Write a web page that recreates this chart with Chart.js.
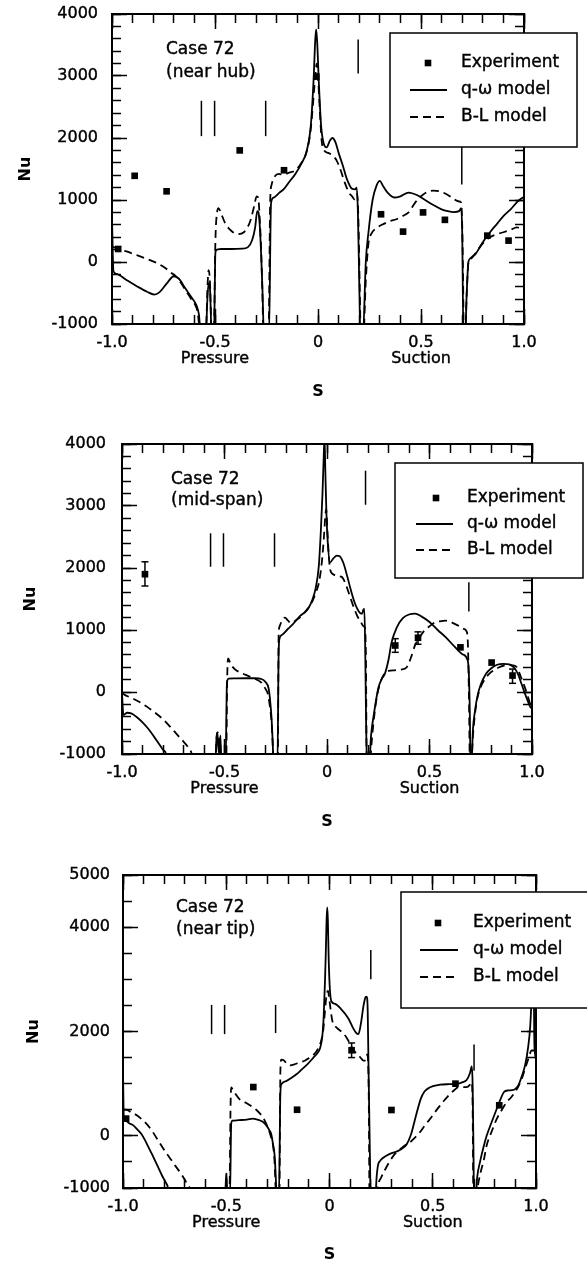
<!DOCTYPE html>
<html>
<head>
<meta charset="utf-8">
<title>Case 72 – Nu vs S</title>
<script src="https://cdn.jsdelivr.net/npm/chart.js@4/dist/chart.umd.min.js"></script>
<style>
  html, body { margin: 0; padding: 0; background: #fff; }
  body { position: relative; width: 587px; height: 1265px; overflow: hidden; }
  canvas { position: absolute; left: 0; }
</style>
</head>
<body>
<canvas id="c1" width="587" height="420" style="top:0px"></canvas>
<canvas id="c2" width="587" height="420" style="top:425px"></canvas>
<canvas id="c3" width="587" height="420" style="top:845px"></canvas>
<script>
// ---------------- shared labels ----------------
const xTickVals = [-1, -0.5, 0, 0.5, 1];
const xTickLabels = [['-1.0'], ['-0.5', 'Pressure'], ['0'], ['0.5', 'Suction'], ['1.0']];
const legendLabels = ['Experiment', 'q-\u03c9 model', 'B-L model'];
const yTitle = 'Nu';
const xTitle = 'S';

// ---------------- panel 1 : near hub ----------------
const p1Note = ['Case 72', '(near hub)'];
const p1YMajor = [-1000, 0, 1000, 2000, 3000, 4000];
const p1ExpX = [-0.97, -0.89, -0.735, -0.38, -0.165, -0.008, 0.306, 0.413, 0.51, 0.616, 0.822, 0.925];
const p1ExpY = [210, 1390, 1140, 1800, 1480, 2990, 770, 490, 800, 680, 425, 345];
const p1ErrX = [], p1ErrLo = [], p1ErrHi = [];
const p1MarkX = [-0.566, -0.502, -0.254, 0.195, 0.698];
const p1MarkLo = [2030, 2030, 2030, 3040, 1250];
const p1MarkHi = [2600, 2600, 2600, 3590, 1860];
const p1Qw = [[-1.0,700],[-0.993,-150],[-0.98,-190],[-0.93,-290],[-0.88,-390],[-0.83,-480],[-0.795,-525],[-0.77,-490],[-0.735,-350],[-0.70,-230],[-0.675,-270],[-0.645,-420],[-0.61,-590],[-0.59,-700],[-0.578,-850],[-0.568,-1200],[-0.545,-1200],[-0.537,-600],[-0.531,-340],[-0.524,-450],[-0.516,-1200],[-0.505,-1200],[-0.498,150],[-0.49,200],[-0.47,210],[-0.42,210],[-0.37,215],[-0.34,240],[-0.32,350],[-0.305,560],[-0.295,820],[-0.289,800],[-0.283,600],[-0.277,200],[-0.27,-400],[-0.262,-1200],[-0.238,-1200],[-0.228,950],[-0.215,1040],[-0.19,1110],[-0.165,1180],[-0.14,1290],[-0.11,1420],[-0.08,1590],[-0.055,1790],[-0.035,2200],[-0.022,2900],[-0.013,3600],[-0.009,3750],[-0.004,3550],[0.004,2900],[0.015,2200],[0.027,1920],[0.042,1850],[0.058,1960],[0.07,2000],[0.085,1930],[0.10,1760],[0.12,1560],[0.14,1340],[0.165,1180],[0.18,1170],[0.188,1200],[0.194,760],[0.20,-300],[0.206,-1200],[0.218,-1200],[0.232,0],[0.245,480],[0.265,1000],[0.285,1240],[0.30,1310],[0.315,1230],[0.34,1110],[0.37,1040],[0.40,1060],[0.44,1120],[0.48,1080],[0.52,1000],[0.56,920],[0.60,850],[0.63,820],[0.66,805],[0.685,820],[0.695,870],[0.70,480],[0.706,-1200],[0.714,-1200],[0.722,-500],[0.73,0],[0.74,60],[0.75,90],[0.765,130],[0.80,320],[0.835,480],[0.87,620],[0.90,740],[0.935,850],[0.965,960],[0.985,1020],[1.0,1050]];
const p1Bl = [[-1.0,250],[-0.98,225],[-0.93,170],[-0.88,110],[-0.83,50],[-0.78,-20],[-0.74,-100],[-0.715,-170],[-0.69,-230],[-0.665,-340],[-0.64,-470],[-0.615,-600],[-0.595,-700],[-0.585,-800],[-0.578,-1000],[-0.574,-1200],[-0.545,-1200],[-0.537,-450],[-0.531,-130],[-0.524,-350],[-0.516,-1200],[-0.506,-1200],[-0.498,350],[-0.49,800],[-0.483,870],[-0.47,780],[-0.45,620],[-0.42,500],[-0.39,450],[-0.36,480],[-0.33,650],[-0.31,900],[-0.298,1060],[-0.29,1040],[-0.283,700],[-0.276,200],[-0.27,-500],[-0.264,-1200],[-0.24,-1200],[-0.232,1000],[-0.225,1250],[-0.21,1380],[-0.19,1420],[-0.17,1410],[-0.14,1440],[-0.11,1480],[-0.08,1600],[-0.055,1780],[-0.035,2150],[-0.022,2650],[-0.012,3050],[-0.006,3200],[0.0,3000],[0.008,2500],[0.018,1950],[0.03,1800],[0.05,1760],[0.07,1720],[0.09,1640],[0.11,1480],[0.13,1280],[0.15,1120],[0.165,1060],[0.178,1010],[0.19,1100],[0.196,700],[0.202,-300],[0.208,-1200],[0.22,-1200],[0.232,-300],[0.245,300],[0.26,460],[0.28,540],[0.31,600],[0.35,660],[0.38,690],[0.41,740],[0.44,800],[0.47,950],[0.50,1060],[0.53,1130],[0.56,1150],[0.59,1140],[0.62,1100],[0.65,1040],[0.68,980],[0.695,960],[0.70,600],[0.704,-200],[0.708,-1200],[0.714,-1200],[0.722,-500],[0.73,-20],[0.745,60],[0.76,120],[0.80,300],[0.835,400],[0.87,450],[0.90,480],[0.935,520],[0.965,560],[0.985,540],[1.0,520]];

// ---------------- panel 2 : mid-span ----------------
const p2Note = ['Case 72', '(mid-span)'];
const p2YMajor = [-1000, 0, 1000, 2000, 3000, 4000];
const p2ExpX = [-0.888, 0.333, 0.444, 0.651, 0.803, 0.905];
const p2ExpY = [1900, 750, 875, 720, 475, 265];
const p2ErrX = [-0.888, 0.333, 0.444, 0.905];
const p2ErrLo = [1710, 640, 770, 140];
const p2ErrHi = [2100, 860, 970, 370];
const p2MarkX = [-0.568, -0.505, -0.256, 0.188, 0.692];
const p2MarkLo = [2020, 2020, 2020, 3020, 1300];
const p2MarkHi = [2560, 2560, 2560, 3570, 1770];
const p2Qw = [[-1.0,-30],[-0.993,-370],[-0.975,-335],[-0.955,-345],[-0.93,-400],[-0.90,-490],[-0.87,-600],[-0.84,-740],[-0.815,-860],[-0.80,-930],[-0.785,-1000],[-0.775,-1200],[-0.545,-1200],[-0.54,-800],[-0.535,-650],[-0.53,-900],[-0.525,-1000],[-0.52,-700],[-0.515,-1200],[-0.495,-1200],[-0.488,150],[-0.48,215],[-0.45,220],[-0.40,222],[-0.35,222],[-0.32,210],[-0.30,160],[-0.285,60],[-0.277,-150],[-0.27,-450],[-0.265,-800],[-0.26,-1200],[-0.242,-1200],[-0.236,600],[-0.232,860],[-0.22,920],[-0.19,1020],[-0.165,1100],[-0.13,1230],[-0.093,1340],[-0.07,1500],[-0.055,1680],[-0.04,2030],[-0.03,2600],[-0.022,3200],[-0.016,3800],[-0.012,4100],[-0.008,3550],[-0.003,2900],[0.003,2450],[0.015,2090],[0.03,2150],[0.048,2200],[0.062,2190],[0.08,2080],[0.10,1850],[0.115,1660],[0.135,1440],[0.155,1300],[0.17,1260],[0.178,1330],[0.182,1340],[0.186,800],[0.19,-300],[0.195,-1200],[0.205,-1200],[0.215,-700],[0.23,-330],[0.25,60],[0.265,200],[0.283,300],[0.30,520],[0.315,800],[0.34,1040],[0.37,1190],[0.40,1250],[0.43,1265],[0.46,1220],[0.50,1130],[0.54,1000],[0.58,880],[0.62,740],[0.66,610],[0.685,520],[0.692,300],[0.697,-400],[0.70,-1200],[0.704,-1200],[0.712,-600],[0.722,-300],[0.735,-50],[0.75,120],[0.775,290],[0.80,380],[0.83,440],[0.86,455],[0.89,445],[0.91,400],[0.93,300],[0.95,120],[0.965,-20],[0.98,-150],[0.99,-230],[1.0,-270]];
const p2Bl = [[-1.0,-10],[-0.99,-40],[-0.95,-100],[-0.91,-170],[-0.877,-240],[-0.84,-330],[-0.80,-440],[-0.765,-560],[-0.73,-690],[-0.70,-800],[-0.68,-880],[-0.66,-1000],[-0.65,-1200],[-0.545,-1200],[-0.538,-700],[-0.533,-650],[-0.528,-900],[-0.522,-750],[-0.516,-1200],[-0.492,-1200],[-0.487,200],[-0.482,540],[-0.47,450],[-0.45,370],[-0.42,310],[-0.385,260],[-0.35,210],[-0.32,150],[-0.30,50],[-0.287,-50],[-0.278,-250],[-0.27,-500],[-0.264,-900],[-0.26,-1200],[-0.24,-1200],[-0.236,900],[-0.232,1050],[-0.215,1180],[-0.205,1200],[-0.19,1150],[-0.175,1110],[-0.15,1160],[-0.13,1210],[-0.10,1320],[-0.075,1440],[-0.055,1600],[-0.039,1770],[-0.025,2100],[-0.015,2500],[-0.008,2850],[-0.004,2950],[0.0,2750],[0.006,2350],[0.015,1980],[0.03,1900],[0.05,1870],[0.07,1860],[0.09,1750],[0.11,1560],[0.13,1370],[0.15,1210],[0.165,1130],[0.178,1060],[0.185,1040],[0.19,500],[0.194,-1200],[0.208,-1200],[0.218,-800],[0.23,-400],[0.242,-100],[0.26,150],[0.277,280],[0.30,340],[0.33,350],[0.36,360],[0.389,400],[0.41,560],[0.43,760],[0.45,870],[0.475,990],[0.50,1060],[0.525,1120],[0.55,1140],[0.58,1150],[0.61,1120],[0.64,1070],[0.665,1020],[0.682,970],[0.688,700],[0.693,-200],[0.697,-1200],[0.703,-1200],[0.712,-700],[0.729,-180],[0.75,80],[0.775,230],[0.80,320],[0.84,400],[0.877,435],[0.905,430],[0.926,400],[0.945,250],[0.958,140],[0.975,-20],[0.99,-180],[1.0,-250]];

// ---------------- panel 3 : near tip ----------------
const p3Note = ['Case 72', '(near tip)'];
const p3YMajor = [-1000, 0, 2000, 4000, 5000];
const p3ExpX = [-0.985, -0.369, -0.157, 0.107, 0.30, 0.61, 0.822];
const p3ExpY = [330, 935, 500, 1640, 495, 1000, 585];
const p3ErrX = [0.107];
const p3ErrLo = [1500];
const p3ErrHi = [1780];
const p3MarkX = [-0.571, -0.508, -0.261, 0.2, 0.7];
const p3MarkLo = [1950, 1950, 1970, 3000, 1250];
const p3MarkHi = [2510, 2510, 2510, 3560, 1750];
const p3Qw = [[-1.0,1250],[-0.996,350],[-0.99,300],[-0.97,240],[-0.95,200],[-0.93,120],[-0.91,30],[-0.89,-110],[-0.87,-270],[-0.85,-430],[-0.83,-600],[-0.81,-770],[-0.795,-880],[-0.782,-1000],[-0.775,-1200],[-0.506,-1200],[-0.5,-720],[-0.494,-1200],[-0.482,-1200],[-0.476,240],[-0.47,290],[-0.44,300],[-0.40,310],[-0.371,330],[-0.34,300],[-0.32,260],[-0.306,200],[-0.29,100],[-0.282,30],[-0.274,-150],[-0.266,-370],[-0.26,-800],[-0.256,-1200],[-0.245,-1200],[-0.238,800],[-0.234,980],[-0.21,1050],[-0.189,1100],[-0.16,1180],[-0.135,1270],[-0.105,1380],[-0.08,1490],[-0.06,1580],[-0.045,1690],[-0.035,1900],[-0.028,2300],[-0.022,2950],[-0.018,3500],[-0.014,4150],[-0.011,4380],[-0.008,4150],[-0.004,3400],[0.002,2800],[0.009,2580],[0.027,2530],[0.054,2440],[0.09,2260],[0.115,2060],[0.13,1970],[0.14,1950],[0.152,2150],[0.165,2500],[0.175,2660],[0.18,2670],[0.185,2400],[0.189,1300],[0.195,-200],[0.2,-1200],[0.222,-1200],[0.228,-800],[0.235,-560],[0.245,-480],[0.26,-420],[0.29,-350],[0.325,-300],[0.35,-250],[0.374,-160],[0.395,30],[0.41,250],[0.425,480],[0.441,700],[0.46,850],[0.487,930],[0.535,980],[0.58,990],[0.616,996],[0.645,1030],[0.664,1070],[0.68,1200],[0.689,1330],[0.693,1000],[0.697,-200],[0.70,-1200],[0.708,-1200],[0.715,-800],[0.729,-500],[0.745,-230],[0.761,0],[0.785,260],[0.81,520],[0.83,720],[0.845,840],[0.865,870],[0.885,875],[0.90,900],[0.915,970],[0.93,1130],[0.947,1350],[0.962,1700],[0.972,2100],[0.978,2600],[0.983,3200],[0.988,3300],[0.992,1800],[0.996,1550],[1.0,1450]];
const p3Bl = [[-1.0,500],[-0.984,500],[-0.96,450],[-0.935,400],[-0.91,320],[-0.887,233],[-0.86,100],[-0.839,-33],[-0.815,-180],[-0.79,-333],[-0.765,-470],[-0.742,-600],[-0.72,-720],[-0.702,-833],[-0.685,-950],[-0.677,-1000],[-0.67,-1200],[-0.485,-1200],[-0.479,600],[-0.476,930],[-0.47,900],[-0.455,800],[-0.435,700],[-0.403,630],[-0.375,560],[-0.355,500],[-0.335,420],[-0.323,360],[-0.31,260],[-0.298,160],[-0.285,0],[-0.274,-170],[-0.266,-500],[-0.261,-1000],[-0.258,-1200],[-0.243,-1200],[-0.238,1200],[-0.234,1460],[-0.222,1450],[-0.205,1370],[-0.19,1350],[-0.17,1370],[-0.15,1400],[-0.12,1440],[-0.099,1490],[-0.075,1560],[-0.054,1680],[-0.04,1830],[-0.031,2000],[-0.024,2300],[-0.018,2570],[-0.012,2750],[-0.007,2780],[-0.002,2650],[0.006,2400],[0.014,2200],[0.036,2070],[0.06,1990],[0.08,1900],[0.107,1710],[0.125,1600],[0.148,1510],[0.165,1440],[0.175,1450],[0.182,1560],[0.186,1500],[0.19,800],[0.194,-1200],[0.228,-1200],[0.235,-950],[0.25,-800],[0.269,-650],[0.29,-500],[0.31,-380],[0.325,-314],[0.35,-230],[0.37,-170],[0.39,-122],[0.415,-30],[0.438,70],[0.46,190],[0.487,325],[0.51,450],[0.535,580],[0.56,700],[0.584,804],[0.605,880],[0.624,932],[0.645,935],[0.664,935],[0.68,980],[0.689,1030],[0.693,600],[0.697,-1200],[0.71,-1200],[0.721,-900],[0.735,-650],[0.748,-450],[0.761,-186],[0.785,80],[0.81,325],[0.835,500],[0.858,644],[0.88,740],[0.898,836],[0.915,950],[0.931,1092],[0.948,1300],[0.963,1476],[0.979,1636],[0.995,1636],[1.0,1600]];

// ---------------- rendering ----------------
const FONT = 'DejaVu Sans';
Chart.defaults.font.family = FONT;
Chart.defaults.color = '#000';

function steps(a, b, st) {
  const out = []; const n = Math.round((b - a) / st);
  for (let i = 0; i <= n; i++) out.push(+(a + i * st).toFixed(6));
  return out;
}

const MAJOR_LEN = 15, MINOR_LEN = 9;

function axis(pos, min, max, vals, len, extra) {
  const horiz = pos === 'top' || pos === 'bottom';
  const size = extra.size || 0;
  return {
    type: 'linear', position: pos, min: min, max: max, weight: extra.weight || 0,
    afterBuildTicks: s => { s.ticks = vals.map(v => ({ value: v })); },
    afterFit: s => {
      if (horiz) s.height = size; else s.width = size;
      s.paddingTop = 0; s.paddingBottom = 0; s.paddingLeft = 0; s.paddingRight = 0;
    },
    grid: { drawOnChartArea: false, drawTicks: true, tickLength: -len, tickColor: '#000', tickWidth: 1.5 },
    border: { display: !!extra.border, color: '#000', width: 2 },
    ticks: extra.ticks || { display: false },
    title: extra.title || { display: false }
  };
}

function overlay(g, note) {
  return {
    id: 'overlay',
    afterDraw(chart) {
      const c = chart.ctx;
      const L = g.leg;
      c.save();
      c.fillStyle = '#000';
      c.strokeStyle = '#000';
      c.lineWidth = 0.4;
      c.font = '17px "' + FONT + '"';
      c.textAlign = 'left';
      c.textBaseline = 'middle';
      note.forEach((t, i) => { c.fillText(t, g.noteX, g.noteY[i]); c.strokeText(t, g.noteX, g.noteY[i]); });
      c.fillStyle = '#fff';
      c.fillRect(L.x0, L.y0, L.x1 - L.x0, L.y1 - L.y0);
      c.lineWidth = 1.5;
      c.strokeRect(L.x0, L.y0, L.x1 - L.x0, L.y1 - L.y0);
      c.fillStyle = '#000';
      c.fillRect(L.mx - 3.3, L.rows[0] - 3.3, 6.6, 6.6);
      c.lineWidth = 1.8;
      c.beginPath(); c.moveTo(L.lx0, L.rows[1]); c.lineTo(L.lx1, L.rows[1]); c.stroke();
      c.setLineDash([8, 5]);
      c.beginPath(); c.moveTo(L.lx0, L.rows[2]); c.lineTo(L.lx1, L.rows[2]); c.stroke();
      c.setLineDash([]);
      c.lineWidth = 0.4;
      legendLabels.forEach((t, i) => { c.fillText(t, L.tx, L.rows[i]); c.strokeText(t, L.tx, L.rows[i]); });
      c.restore();
    }
  };
}

function buildPanel(id, d, g) {
  const ds = [];
  ds.push({
    label: legendLabels[0], data: d.expX.map((x, i) => ({ x: x, y: d.expY[i] })),
    showLine: false, pointStyle: 'rect', pointRadius: 4.7,
    pointBackgroundColor: '#000', pointBorderColor: '#000', pointBorderWidth: 0
  });
  d.errX.forEach((x, i) => ds.push({
    data: [{ x: x, y: d.errLo[i] }, { x: x, y: d.errHi[i] }],
    showLine: true, borderColor: '#000', borderWidth: 1.5,
    pointStyle: 'line', pointRadius: 3.5, pointBorderColor: '#000', pointBorderWidth: 1.5
  }));
  ds.push({
    label: legendLabels[1], data: d.qw.map(p => ({ x: p[0], y: p[1] })),
    showLine: true, borderColor: '#000', borderWidth: 1.8, pointRadius: 0,
    cubicInterpolationMode: 'monotone', clip: 0
  });
  ds.push({
    label: legendLabels[2], data: d.bl.map(p => ({ x: p[0], y: p[1] })),
    showLine: true, borderColor: '#000', borderWidth: 1.8, borderDash: [8, 5], pointRadius: 0,
    cubicInterpolationMode: 'monotone', clip: 0
  });
  d.markX.forEach((x, i) => ds.push({
    data: [{ x: x, y: d.markLo[i] }, { x: x, y: d.markHi[i] }],
    showLine: true, borderColor: '#000', borderWidth: 1.5, pointRadius: 0
  }));
  ds.forEach(s => { s.xAxisID = 'x'; s.yAxisID = 'y'; });

  const xMinor = steps(-1, 1, 0.1);
  const yMinor = steps(d.yMin, d.yMax, d.yMinorStep);
  const tickFont = { family: FONT, size: 16, lineHeight: 1.0 };
  const titleFont = { family: FONT, size: 16, weight: 'bold', lineHeight: 1.2 };

  const scales = {
    x: axis('bottom', -1, 1, xTickVals, MAJOR_LEN, {
      weight: 1, size: g.h - g.B, border: true,
      ticks: { display: true, autoSkip: false, maxRotation: 0, minRotation: 0, padding: 19 + MAJOR_LEN - 8,
               color: '#000', font: tickFont, textStrokeColor: '#000', textStrokeWidth: 0.4,
               callback: (v, i) => xTickLabels[i] },
      title: { display: true, text: xTitle, color: '#000', font: titleFont, padding: { top: 0, bottom: g.h - g.sY - 9.6 } }
    }),
    xm: axis('bottom', -1, 1, xMinor, MINOR_LEN, {}),
    xt: axis('top', -1, 1, xTickVals, MAJOR_LEN, { border: true, weight: 1 }),
    xtm: axis('top', -1, 1, xMinor, MINOR_LEN, {}),
    y: axis('left', d.yMin, d.yMax, d.yMajor, MAJOR_LEN, {
      weight: 1, size: g.L, border: true,
      ticks: { display: true, autoSkip: false, padding: g.L + MAJOR_LEN - g.yLabRight, color: '#000', font: tickFont,
               textStrokeColor: '#000', textStrokeWidth: 0.4,
               callback: v => String(v) },
      title: { display: true, text: yTitle, color: '#000', font: titleFont, padding: { top: g.nuX - 9.6, bottom: 0 } }
    }),
    ym: axis('left', d.yMin, d.yMax, yMinor, MINOR_LEN, {}),
    yr: axis('right', d.yMin, d.yMax, d.yMajor, MAJOR_LEN, { border: true, weight: 1 }),
    yrm: axis('right', d.yMin, d.yMax, yMinor, MINOR_LEN, {})
  };

  return new Chart(document.getElementById(id), {
    type: 'scatter',
    data: { datasets: ds },
    options: {
      responsive: false, maintainAspectRatio: false, animation: false, devicePixelRatio: 1,
      layout: { padding: { left: 0, right: 587 - g.R, top: g.T, bottom: 0 } },
      plugins: { legend: { display: false }, tooltip: { enabled: false } },
      scales: scales
    },
    plugins: [overlay(g, d.note)]
  });
}

buildPanel('c1', {
  note: p1Note, yMin: -1000, yMax: 4000, yMajor: p1YMajor, yMinorStep: 200,
  expX: p1ExpX, expY: p1ExpY, errX: p1ErrX, errLo: p1ErrLo, errHi: p1ErrHi,
  markX: p1MarkX, markLo: p1MarkLo, markHi: p1MarkHi, qw: p1Qw, bl: p1Bl
}, {
  h: 420, L: 112, R: 524, T: 14, B: 324, sY: 392, nuX: 26, yLabRight: 98,
  noteX: 166, noteY: [50, 73],
  leg: { x0: 390, x1: 577, y0: 33, y1: 147, rows: [63, 90, 117], mx: 428, lx0: 410, lx1: 447, tx: 461 }
});

buildPanel('c2', {
  note: p2Note, yMin: -1000, yMax: 4000, yMajor: p2YMajor, yMinorStep: 200,
  expX: p2ExpX, expY: p2ExpY, errX: p2ErrX, errLo: p2ErrLo, errHi: p2ErrHi,
  markX: p2MarkX, markLo: p2MarkLo, markHi: p2MarkHi, qw: p2Qw, bl: p2Bl
}, {
  h: 420, L: 122, R: 532, T: 19, B: 329, sY: 397, nuX: 31, yLabRight: 106,
  noteX: 171, noteY: [55, 76],
  leg: { x0: 395, x1: 583, y0: 38, y1: 153, rows: [73, 99, 125], mx: 436, lx0: 416, lx1: 453, tx: 467 }
});

buildPanel('c3', {
  note: p3Note, yMin: -1000, yMax: 5000, yMajor: p3YMajor, yMinorStep: 500,
  expX: p3ExpX, expY: p3ExpY, errX: p3ErrX, errLo: p3ErrLo, errHi: p3ErrHi,
  markX: p3MarkX, markLo: p3MarkLo, markHi: p3MarkHi, qw: p3Qw, bl: p3Bl
}, {
  h: 420, L: 123, R: 536, T: 30, B: 343, sY: 410, nuX: 34, yLabRight: 110,
  noteX: 176, noteY: [63, 85],
  leg: { x0: 401, x1: 600, y0: 47, y1: 163, rows: [78, 105, 132], mx: 438, lx0: 420, lx1: 458, tx: 473 }
});
</script>
</body>
</html>
